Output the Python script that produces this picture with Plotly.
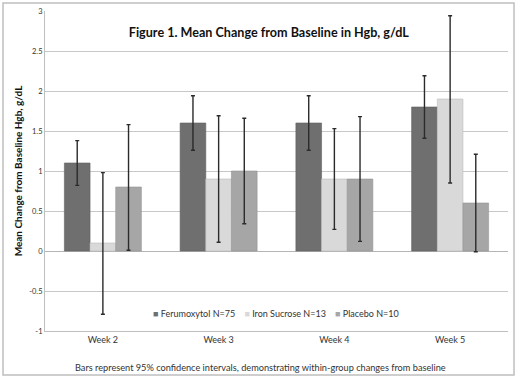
import plotly.graph_objects as go

weeks = ["Week 2", "Week 3", "Week 4", "Week 5"]
series_names = ["Ferumoxytol N=75", "Iron Sucrose N=13", "Placebo N=10"]
feru = [1.1, 1.6, 1.6, 1.8]
feru_hi = [1.38, 1.94, 1.94, 2.19]
feru_lo = [0.82, 1.26, 1.26, 1.41]
iron = [0.1, 0.9, 0.9, 1.9]
iron_hi = [0.98, 1.69, 1.53, 2.94]
iron_lo = [-0.79, 0.11, 0.27, 0.85]
plac = [0.8, 1.0, 0.9, 0.6]
plac_hi = [1.58, 1.66, 1.68, 1.21]
plac_lo = [0.01, 0.34, 0.12, -0.01]
y_ticks = [-1, -0.5, 0, 0.5, 1, 1.5, 2, 2.5, 3]

colors = ["#6f6f6f", "#d9d9d9", "#a6a6a6"]
edges = ["#5f5f5f", "#bdbdbd", "#959595"]
FONT = "Lato"

fig = go.Figure()
for name, vals, hi, lo, c, e in zip(series_names, [feru, iron, plac],
                                    [feru_hi, iron_hi, plac_hi],
                                    [feru_lo, iron_lo, plac_lo], colors, edges):
    fig.add_trace(go.Bar(
        x=weeks, y=vals, name=name, showlegend=False,
        marker=dict(color=c, line=dict(color=e, width=0.6)),
        error_y=dict(type="data", symmetric=False,
                     array=[h - v for h, v in zip(hi, vals)],
                     arrayminus=[v - l for v, l in zip(vals, lo)],
                     color="#2b2b2b", thickness=1.4, width=2),
    ))

# legend drawn as one text line with colored square glyphs
legend_text = "&nbsp;&nbsp;&nbsp;&nbsp;".join(
    f"<span style='color:{c}'>■</span> {n}" for n, c in zip(series_names, colors))

fig.update_layout(
    width=520, height=377,
    margin=dict(l=45, r=12, t=11, b=46, autoexpand=False),
    paper_bgcolor="white", plot_bgcolor="white",
    barmode="group", bargap=0.335, bargroupgap=0,
    font=dict(family=FONT, color="#222222"),
    title=dict(text="<b>Figure 1. Mean Change from Baseline in Hgb, g/dL</b>",
               x=0.517, xanchor="center", y=1 - 33 / 377, yanchor="middle",
               font=dict(size=12.6, family=FONT, color="#111111")),
    showlegend=False,
    xaxis=dict(showgrid=False, showline=True, linecolor="#bfbfbf", linewidth=1,
               ticks="", tickfont=dict(size=9, family=FONT, color="#333333"),
               range=[-0.5, 3.5], mirror=False, automargin=False),
    yaxis=dict(range=[-1, 3], tickvals=y_ticks, ticktext=[f"{t:g}" for t in y_ticks],
               showgrid=True, gridcolor="#c8c8c8", gridwidth=1,
               zeroline=True, zerolinecolor="#b5b5b5", zerolinewidth=1,
               showline=True, linecolor="#bfbfbf", linewidth=1, automargin=False,
               ticks="", tickfont=dict(size=7.5, family=FONT, color="#333333"),
               title=dict(text="<b>Mean Change from Baseline Hgb, g/dL</b>",
                          font=dict(size=10, family=FONT, color="#111111"), standoff=4)),
    annotations=[
        dict(text=legend_text, x=0.499, y=0.056, xref="paper", yref="paper",
             showarrow=False, xanchor="center", yanchor="middle",
             font=dict(size=9, family=FONT, color="#333333")),
        dict(text="Bars represent 95% confidence intervals, demonstrating within-group changes from baseline",
             x=0.465, y=-0.1125, xref="paper", yref="paper", showarrow=False,
             xanchor="center", yanchor="middle",
             font=dict(size=9.2, family=FONT, color="#333333"))],
    shapes=[dict(type="rect", xref="paper", yref="paper",
                 x0=-0.0907, x1=1.013, y0=-0.1375, y1=1.025,
                 line=dict(color="#bfbfbf", width=1.5), fillcolor="rgba(0,0,0,0)",
                 layer="below")],
)

fig.write_html("out.html", config={"displayModeBar": False},
               post_script="document.body.style.margin='0';")
